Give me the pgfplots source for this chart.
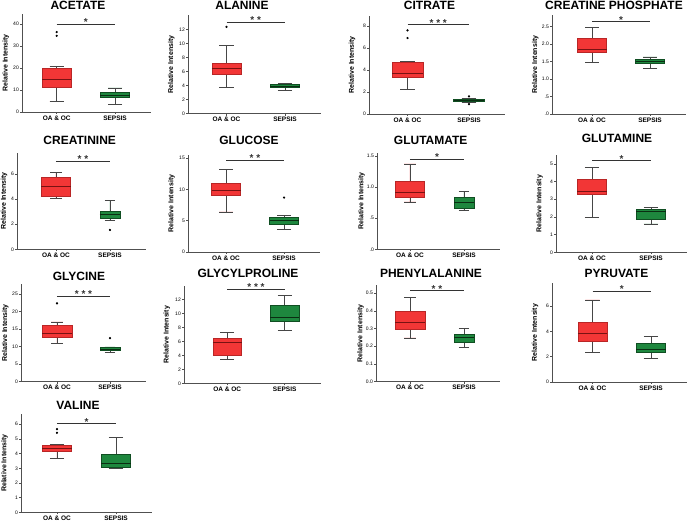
\documentclass[border=0pt]{standalone}
\usepackage{fontspec}
\setmainfont{Liberation Sans}
\usepackage{pgfplots}
\pgfplotsset{compat=1.18}
\usepgfplotslibrary{statistics}
\definecolor{oafill}{RGB}{242,54,54}
\definecolor{oaedge}{RGB}{185,38,38}
\definecolor{oamed}{RGB}{120,18,18}
\definecolor{sepfill}{RGB}{30,135,62}
\definecolor{sepedge}{RGB}{16,78,34}
\definecolor{sepmed}{RGB}{10,45,18}
\definecolor{whisk}{RGB}{70,70,70}
\definecolor{axcol}{RGB}{80,80,80}
\pgfplotsset{
  panel/.style={scale only axis, axis lines=left,
    axis line style={-, draw=axcol, line width=0.6pt},
    ymin=0, xtick={0,1}, xticklabels={OA \& OC, SEPSIS},
    tick align=outside, major tick length=2pt,
    tick style={draw=axcol, line width=0.5pt},
    xticklabel style={font=\bfseries\fontsize{6.5}{7}\selectfont, inner sep=1.5pt},
    yticklabel style={font=\fontsize{5}{6}\selectfont, inner sep=1pt},
    ylabel={Relative Intensity},
    ylabel style={font=\bfseries\fontsize{7}{8}\selectfont, at={(axis description cs:-0.125,0.5)}, anchor=center},
    clip=false, anchor=south west},
  oabox/.style={boxplot prepared={draw direction=y, draw position=0, box extend=0.5, whisker extend=0.24, #1},
    draw=oaedge, fill=oafill, line width=0.6pt, mark=*, mark size=0.8pt,
    mark options={fill=black, draw=black, solid},
    boxplot/every median/.style={draw=oamed, line width=0.9pt},
    boxplot/every whisker/.style={draw=whisk, line width=0.7pt}},
  sepbox/.style={boxplot prepared={draw direction=y, draw position=1, box extend=0.5, whisker extend=0.24, #1},
    draw=sepedge, fill=sepfill, line width=0.6pt, mark=*, mark size=0.8pt,
    mark options={fill=black, draw=black, solid},
    boxplot/every median/.style={draw=sepmed, line width=0.9pt},
    boxplot/every whisker/.style={draw=whisk, line width=0.7pt}},
  sig/.style={draw=black!80, line width=0.7pt, no marks},
}
\tikzset{
  stars/.style={font=\bfseries\fontsize{10}{10}\selectfont, anchor=base, inner sep=0pt, yshift=-1.5pt, text=black!80},
  ttl/.style={font=\bfseries\fontsize{12}{14}\selectfont, anchor=base, inner sep=0pt},
}
\begin{document}
\begin{tikzpicture}
\useasboundingbox (0pt,0pt) rectangle (690pt,521pt);

% ---------- Row 1 ----------
\begin{axis}[panel, at={(22pt,409pt)}, width=129pt, height=98pt, xmin=-0.595, xmax=1.617, ymax=44.5,
  ytick={0,10,20,30,40}, yticklabels={0,10,20,30,40}]
\addplot[oabox={median=14.6, upper quartile=19.9, lower quartile=11.4, upper whisker=20.6, lower whisker=4.8}]
  table[row sep=\\, y index=0] {y\\ 36.3\\ 34.6\\};
\addplot[sepbox={median=7.6, upper quartile=8.8, lower quartile=6.5, upper whisker=10.9, lower whisker=3.5}] coordinates {};
\addplot[sig] coordinates {(0,40) (1,40)};
\node[stars] at (axis cs:0.5,40) {*};
\end{axis}
\node[ttl] at (78pt,511pt) {ACETATE};

\begin{axis}[panel, at={(188pt,407.3pt)}, width=133pt, height=98.7pt, xmin=-0.658, xmax=1.615, ymax=14.1,
  ytick={0,2,4,6,8,10,12}, yticklabels={0,2,4,6,8,10,12}]
\addplot[oabox={median=6.5, upper quartile=7.2, lower quartile=5.6, upper whisker=9.8, lower whisker=3.8}]
  table[row sep=\\, y index=0] {y\\ 12.4\\};
\addplot[sepbox={median=3.9, upper quartile=4.2, lower quartile=3.7, upper whisker=4.3, lower whisker=3.3}] coordinates {};
\addplot[sig] coordinates {(0,13.1) (1,13.1)};
\node[stars] at (axis cs:0.5,13.1) {* *};
\end{axis}
\node[ttl] at (242pt,511.5pt) {ALANINE};

\begin{axis}[panel, at={(369pt,407pt)}, width=136pt, height=98pt, xmin=-0.626, xmax=1.585, ymax=8.9,
  ytick={0,2,4,6,8}, yticklabels={0,2,4,6,8}]
\addplot[oabox={median=3.7, upper quartile=4.7, lower quartile=3.35, upper whisker=4.75, lower whisker=2.25}]
  table[row sep=\\, y index=0] {y\\ 7.6\\ 6.9\\};
\addplot[sepbox={median=1.2, upper quartile=1.3, lower quartile=1.12, upper whisker=1.4, lower whisker=1.08}]
  table[row sep=\\, y index=0] {y\\ 1.6\\ 0.9\\};
\addplot[sig] coordinates {(0,8.1) (1,8.1)};
\node[stars] at (axis cs:0.5,8.1) {* * *};
\end{axis}
\node[ttl] at (429.5pt,511.5pt) {CITRATE};

\begin{axis}[panel, at={(552pt,407pt)}, width=134pt, height=99pt, xmin=-0.69, xmax=1.62, ymax=2.83,
  ytick={0,0.5,1,1.5,2,2.5}, yticklabels={.0,.5,1.0,1.5,2.0,2.5}]
\addplot[oabox={median=1.84, upper quartile=2.15, lower quartile=1.76, upper whisker=2.47, lower whisker=1.48}] coordinates {};
\addplot[sepbox={median=1.51, upper quartile=1.56, lower quartile=1.44, upper whisker=1.63, lower whisker=1.31}] coordinates {};
\addplot[sig] coordinates {(0,2.64) (1,2.64)};
\node[stars] at (axis cs:0.5,2.64) {*};
\end{axis}
\node[ttl] at (614pt,511.5pt) {CREATINE PHOSPHATE};

% ---------- Row 2 ----------
\begin{axis}[panel, at={(17pt,271.7pt)}, width=129pt, height=96.6pt, xmin=-0.722, xmax=1.667, ymax=7.7,
  ytick={0,2,4,6}, yticklabels={0,2,4,6},
  ylabel style={at={(axis description cs:-0.1,0.5)}}]
\addplot[oabox={median=5.04, upper quartile=5.73, lower quartile=4.24, upper whisker=6.16, lower whisker=4.08, box extend=0.54, whisker extend=0.22}] coordinates {};
\addplot[sepbox={median=2.74, upper quartile=3.06, lower quartile=2.48, upper whisker=3.9, lower whisker=2.29, box extend=0.37, whisker extend=0.19}]
  table[row sep=\\, y index=0] {y\\ 1.54\\};
\addplot[sig] coordinates {(0,7.0) (1,7.0)};
\node[stars] at (axis cs:0.5,7.0) {* *};
\end{axis}
\node[ttl] at (79.7pt,376pt) {CREATININE};

\begin{axis}[panel, at={(188pt,269pt)}, width=132pt, height=97pt, xmin=-0.655, xmax=1.62, ymax=15.5,
  ytick={0,5,10,15}, yticklabels={0,5,10,15}]
\addplot[oabox={median=9.9, upper quartile=10.9, lower quartile=9.0, upper whisker=13.2, lower whisker=6.4}] coordinates {};
\addplot[sepbox={median=5.1, upper quartile=5.55, lower quartile=4.4, upper whisker=5.9, lower whisker=3.6}]
  table[row sep=\\, y index=0] {y\\ 8.7\\};
\addplot[sig] coordinates {(0,14.7) (1,14.7)};
\node[stars] at (axis cs:0.5,14.7) {* *};
\end{axis}
\node[ttl] at (249pt,376pt) {GLUCOSE};

\begin{axis}[panel, at={(377pt,271.7pt)}, width=123pt, height=96.6pt, xmin=-0.611, xmax=1.667, ymax=1.55,
  ytick={0,0.5,1,1.5}, yticklabels={.0,.5,1.0,1.5}]
\addplot[oabox={median=0.91, upper quartile=1.09, lower quartile=0.84, upper whisker=1.37, lower whisker=0.76, box extend=0.54, whisker extend=0.22}] coordinates {};
\addplot[sepbox={median=0.75, upper quartile=0.84, lower quartile=0.66, upper whisker=0.93, lower whisker=0.62, box extend=0.37, whisker extend=0.19}] coordinates {};
\addplot[sig] coordinates {(0,1.45) (1,1.45)};
\node[stars] at (axis cs:0.5,1.45) {*};
\end{axis}
\node[ttl] at (430.7pt,376pt) {GLUTAMATE};

\begin{axis}[panel, at={(556pt,268.7pt)}, width=131pt, height=97.3pt, xmin=-0.61, xmax=1.61, ymax=5.5,
  ytick={0,1,2,3,4,5}, yticklabels={0,1,2,3,4,5}]
\addplot[oabox={median=3.46, upper quartile=4.15, lower quartile=3.25, upper whisker=4.8, lower whisker=1.98}] coordinates {};
\addplot[sepbox={median=2.3, upper quartile=2.43, lower quartile=1.86, upper whisker=2.52, lower whisker=1.6}] coordinates {};
\addplot[sig] coordinates {(0,5.18) (1,5.18)};
\node[stars] at (axis cs:0.5,5.18) {*};
\end{axis}
\node[ttl] at (617pt,378pt) {GLUTAMINE};

% ---------- Row 3 ----------
\begin{axis}[panel, at={(21pt,139.3pt)}, width=125pt, height=97.4pt, xmin=-0.679, xmax=1.679, ymax=27.7,
  ytick={0,5,10,15,20,25}, yticklabels={0,5,10,15,20,25}]
\addplot[oabox={median=13.6, upper quartile=16.0, lower quartile=12.7, upper whisker=17.0, lower whisker=10.9, box extend=0.56, whisker extend=0.22}]
  table[row sep=\\, y index=0] {y\\ 22.3\\};
\addplot[sepbox={median=9.2, upper quartile=9.7, lower quartile=8.9, upper whisker=9.9, lower whisker=8.3, box extend=0.37, whisker extend=0.19}]
  table[row sep=\\, y index=0] {y\\ 12.4\\};
\addplot[sig] coordinates {(0,24.4) (1,24.4)};
\node[stars] at (axis cs:0.5,24.4) {* * *};
\end{axis}
\node[ttl] at (79pt,240.5pt) {GLYCINE};

\begin{axis}[panel, at={(184pt,137.7pt)}, width=136.7pt, height=97.3pt, xmin=-0.754, xmax=1.627, ymax=13.9,
  ytick={0,2,4,6,8,10,12}, yticklabels={0,2,4,6,8,10,12}]
\addplot[oabox={median=5.8, upper quartile=6.4, lower quartile=4.04, upper whisker=7.23, lower whisker=3.43}] coordinates {};
\addplot[sepbox={median=9.43, upper quartile=11.2, lower quartile=8.8, upper whisker=12.5, lower whisker=7.6}] coordinates {};
\addplot[sig] coordinates {(0,13.4) (1,13.4)};
\node[stars] at (axis cs:0.5,13.4) {* * *};
\end{axis}
\node[ttl] at (248pt,243pt) {GLYCYLPROLINE};

\begin{axis}[panel, at={(376pt,139.3pt)}, width=124pt, height=96.7pt, xmin=-0.63, xmax=1.667, ymax=0.546,
  ytick={0,0.1,0.2,0.3,0.4,0.5}, yticklabels={0.0,0.1,0.2,0.3,0.4,0.5}]
\addplot[oabox={median=0.333, upper quartile=0.40, lower quartile=0.296, upper whisker=0.475, lower whisker=0.247, box extend=0.56, whisker extend=0.22}] coordinates {};
\addplot[sepbox={median=0.249, upper quartile=0.27, lower quartile=0.223, upper whisker=0.30, lower whisker=0.194, box extend=0.37, whisker extend=0.19}] coordinates {};
\addplot[sig] coordinates {(0,0.514) (1,0.514)};
\node[stars] at (axis cs:0.5,0.514) {* *};
\end{axis}
\node[ttl] at (431pt,243pt) {PHENYLALANINE};

\begin{axis}[panel, at={(552pt,139pt)}, width=135pt, height=98.7pt, xmin=-0.692, xmax=1.615, ymax=7.8,
  ytick={0,2,4,6}, yticklabels={0,2,4,6}]
\addplot[oabox={median=3.83, upper quartile=4.75, lower quartile=3.23, upper whisker=6.48, lower whisker=2.31}] coordinates {};
\addplot[sepbox={median=2.57, upper quartile=3.09, lower quartile=2.31, upper whisker=3.62, lower whisker=1.87}] coordinates {};
\addplot[sig] coordinates {(0,7.19) (1,7.19)};
\node[stars] at (axis cs:0.5,7.19) {*};
\end{axis}
\node[ttl] at (616.5pt,243pt) {PYRUVATE};

% ---------- Row 4 ----------
\begin{axis}[panel, at={(21pt,8.7pt)}, width=131pt, height=98.3pt, xmin=-0.61, xmax=1.61, ymax=6.7,
  ytick={0,1,2,3,4,5,6}, yticklabels={0,1,2,3,4,5,6}]
\addplot[oabox={median=4.37, upper quartile=4.58, lower quartile=4.15, upper whisker=4.65, lower whisker=3.65}]
  table[row sep=\\, y index=0] {y\\ 5.67\\ 5.42\\};
\addplot[sepbox={median=3.35, upper quartile=3.95, lower quartile=3.06, upper whisker=5.12, lower whisker=2.97}] coordinates {};
\addplot[sig] coordinates {(0,6.05) (1,6.05)};
\node[stars] at (axis cs:0.5,6.05) {*};
\end{axis}
\node[ttl] at (78pt,111.5pt) {VALINE};
\end{tikzpicture}
\end{document}
